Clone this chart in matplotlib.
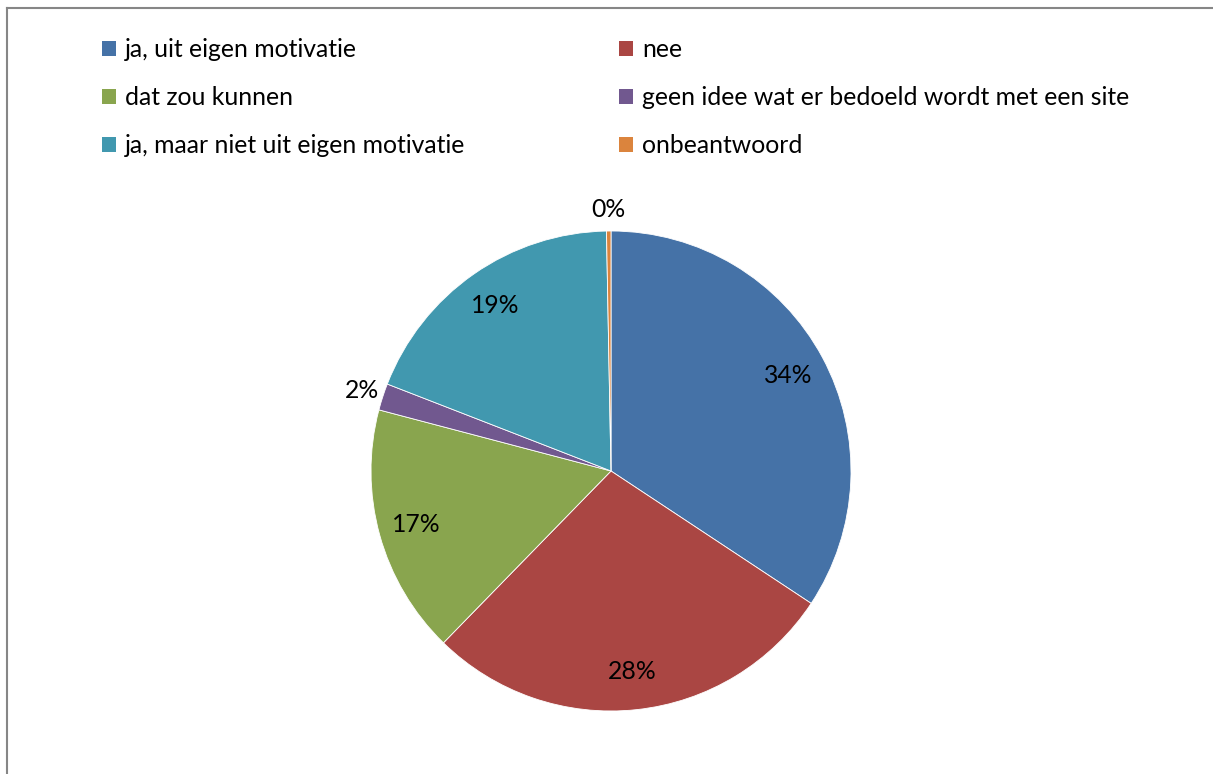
import matplotlib
matplotlib.use("Agg")
import matplotlib.pyplot as plt
from matplotlib.patches import Patch
from matplotlib.lines import Line2D
import numpy as np

plt.rcParams['font.family'] = ['Lato', 'DejaVu Sans']

categories = ["ja, uit eigen motivatie", "nee", "dat zou kunnen",
              "geen idee wat er bedoeld wordt met een site",
              "ja, maar niet uit eigen motivatie", "onbeantwoord"]
values = [34.3, 28.0, 16.8, 1.8, 18.8, 0.3]
colors = ["#4572A7", "#AA4643", "#89A54E", "#71588F", "#4198AF", "#DB843D"]

W, H = 1213, 774
fig = plt.figure(figsize=(W / 100, H / 100), dpi=100)

# chart border (gray frame extending beyond the image)
fig.add_artist(Line2D([6.5 / W, 6.5 / W], [1 - 7.5 / H, -0.1], transform=fig.transFigure,
                      color="#868686", lw=1.5))
fig.add_artist(Line2D([6.5 / W, 1.1], [1 - 7.5 / H, 1 - 7.5 / H], transform=fig.transFigure,
                      color="#868686", lw=1.5))

cx, cy, r = 611, 471, 240
ax = fig.add_axes([(cx - r) / W, (H - cy - r) / H, 2 * r / W, 2 * r / H])
wedges, _ = ax.pie(values, colors=colors, startangle=90, counterclock=False,
                   radius=1, wedgeprops=dict(linewidth=0.6, edgecolor="white"))
ax.set_xlim(-1, 1)
ax.set_ylim(-1, 1)
ax.set_aspect("equal")
ax.axis("off")

FS = 17.8
total = sum(values)
for w, v in zip(wedges, values):
    ang = np.deg2rad((w.theta1 + w.theta2) / 2)
    pct = v / total * 100
    d = 0.84 if pct >= 5 else 1.09
    ax.text(d * np.cos(ang), d * np.sin(ang), f"{pct:.0f}%", ha="center", va="center",
            fontsize=FS, color="black", clip_on=False)

col1 = [0, 2, 4]
col2 = [1, 3, 5]
for col, x in ((col1, 102), (col2, 619)):
    handles = [Patch(facecolor=colors[i], edgecolor="none") for i in col]
    labels = [categories[i] for i in col]
    fig.legend(handles, labels, loc="upper left", bbox_to_anchor=(x / W, 1 - 38 / H),
               frameon=False, fontsize=FS, handlelength=0.58, handleheight=0.58,
               handletextpad=0.35, labelspacing=1.01, borderaxespad=0, borderpad=0)

fig.savefig("out.png", dpi=100, facecolor="white")
